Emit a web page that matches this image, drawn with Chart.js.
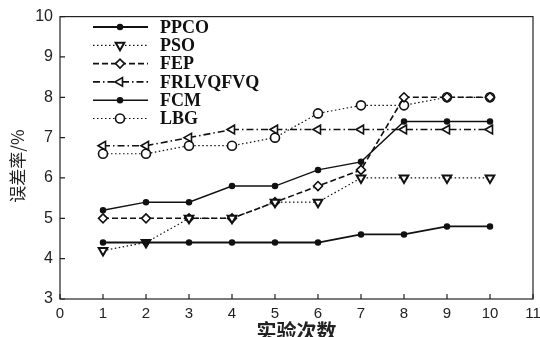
<!DOCTYPE html>
<html>
<head>
<meta charset="utf-8">
<script src="https://cdn.jsdelivr.net/npm/chart.js"></script>
<style>
  html, body { margin: 0; padding: 0; background: #fff; }
  #wrap { width: 540px; height: 337px; }
</style>
</head>
<body>
<div id="wrap"><canvas id="lineChart" width="540" height="337"></canvas></div>
<script>
// data
var experiments = [1, 2, 3, 4, 5, 6, 7, 8, 9, 10];
var ppco  = [4.4, 4.4, 4.4, 4.4, 4.4, 4.4, 4.6, 4.6, 4.8, 4.8];
var pso   = [4.2, 4.4, 5.0, 5.0, 5.4, 5.4, 6.0, 6.0, 6.0, 6.0];
var fep   = [5.0, 5.0, 5.0, 5.0, 5.4, 5.8, 6.2, 8.0, 8.0, 8.0];
var frlvq = [6.8, 6.8, 7.0, 7.2, 7.2, 7.2, 7.2, 7.2, 7.2, 7.2];
var fcm   = [5.2, 5.4, 5.4, 5.8, 5.8, 6.2, 6.4, 7.4, 7.4, 7.4];
var lbg   = [6.6, 6.6, 6.8, 6.8, 7.0, 7.6, 7.8, 7.8, 8.0, 8.0];
var seriesNames = ['PPCO', 'PSO', 'FEP', 'FRLVQFVQ', 'FCM', 'LBG'];
var xTicks = [0, 1, 2, 3, 4, 5, 6, 7, 8, 9, 10, 11];
var yTicks = [3, 4, 5, 6, 7, 8, 9, 10];

function pts(arr) {
    return experiments.map(function(x, i) { return {x: x, y: arr[i]}; });
}

function makeSet(name, arr, style) {
    return Object.assign({
        label: name,
        data: pts(arr),
        borderColor: '#111',
        backgroundColor: '#fff',
        pointBorderColor: '#111',
        borderWidth: 1.2,
        pointBorderWidth: 1.5,
        tension: 0
    }, style);
}

var datasets = [
    makeSet(seriesNames[0], ppco,  {borderWidth: 1.8, pointStyle: 'circle', pointRadius: 2.5, pointBackgroundColor: '#111'}),
    makeSet(seriesNames[1], pso,   {borderDash: [1.5, 2.5], pointStyle: 'triangle', rotation: 180, pointRadius: 5, pointBorderWidth: 2, pointBackgroundColor: '#fff'}),
    makeSet(seriesNames[2], fep,   {borderWidth: 1.6, borderDash: [6, 3], pointStyle: 'rectRot', pointRadius: 4.5, pointBorderWidth: 1.6, pointBackgroundColor: '#fff'}),
    makeSet(seriesNames[3], frlvq, {borderWidth: 1.6, borderDash: [7, 3, 1.5, 3], pointStyle: 'triangle', rotation: 270, pointRadius: 5, pointBorderWidth: 1.6, pointBackgroundColor: '#fff'}),
    makeSet(seriesNames[4], fcm,   {borderWidth: 1.4, pointStyle: 'circle', pointRadius: 2.5, pointBackgroundColor: '#111'}),
    makeSet(seriesNames[5], lbg,   {borderDash: [1.5, 2.5], pointStyle: 'circle', pointRadius: 4.5, pointBorderWidth: 1.6, pointBackgroundColor: '#fff'})
];

// frame, inward ticks, axis titles and the legend box in the upper left
var decor = {
    id: 'decor',
    afterDatasetsDraw: function(chart) {
        var ctx = chart.ctx, a = chart.chartArea;
        var xs = chart.scales.x, ys = chart.scales.y;
        ctx.save();
        ctx.strokeStyle = '#222';
        ctx.lineWidth = 1.2;
        ctx.setLineDash([]);
        ctx.strokeRect(a.left, a.top, a.right - a.left, a.bottom - a.top);
        ctx.beginPath();
        xTicks.forEach(function(v) {
            var px = xs.getPixelForValue(v);
            ctx.moveTo(px, a.bottom); ctx.lineTo(px, a.bottom - 5);
        });
        yTicks.forEach(function(v) {
            var py = ys.getPixelForValue(v);
            ctx.moveTo(a.left, py); ctx.lineTo(a.left + 5, py);
        });
        ctx.stroke();

        // axis titles
        ctx.fillStyle = '#222';
        ctx.textAlign = 'center';
        ctx.textBaseline = 'middle';
        ctx.font = '600 20px "Noto Sans CJK SC"';
        ctx.fillText('实验次数', (a.left + a.right) / 2, 331);
        ctx.save();
        ctx.translate(18, 166);
        ctx.rotate(-Math.PI / 2);
        ctx.font = '17px "Noto Sans CJK SC"';
        ctx.fillText('误差率/%', 0, 0);
        ctx.restore();

        // legend
        ctx.textAlign = 'left';
        chart.data.datasets.forEach(function(ds, i) {
            var y = 27 + i * 18.3;
            ctx.strokeStyle = ds.borderColor;
            ctx.lineWidth = ds.borderWidth;
            ctx.setLineDash(ds.borderDash || []);
            ctx.beginPath();
            ctx.moveTo(93, y); ctx.lineTo(148, y);
            ctx.stroke();
            ctx.setLineDash([]);
            ctx.lineWidth = ds.pointBorderWidth;
            ctx.strokeStyle = ds.pointBorderColor;
            ctx.fillStyle = ds.pointBackgroundColor;
            Chart.helpers.drawPoint(ctx, {
                pointStyle: ds.pointStyle,
                rotation: ds.rotation || 0,
                radius: ds.pointRadius,
                borderWidth: ds.pointBorderWidth
            }, 120, y);
            ctx.fillStyle = '#111';
            ctx.font = 'bold 18px "Liberation Serif"';
            ctx.fillText(ds.label, 160, y + 1);
        });
        ctx.restore();
    }
};

var ctx = document.getElementById('lineChart').getContext('2d');
var chart = new Chart(ctx, {
    type: 'line',
    data: { datasets: datasets },
    options: {
        responsive: false,
        animation: false,
        layout: { padding: { top: 16, right: 0, left: 0, bottom: 0 } },
        plugins: { legend: { display: false }, tooltip: { enabled: false } },
        scales: {
            x: {
                type: 'linear', min: 0, max: 11,
                afterFit: function(s) { s.height = 38; s.paddingRight = 7; s.paddingLeft = 0; },
                afterBuildTicks: function(s) { s.ticks = xTicks.map(function(v) { return {value: v}; }); },
                grid: { display: false, drawTicks: false },
                border: { display: false },
                ticks: { color: '#222', padding: 6, maxRotation: 0, font: { family: 'Liberation Sans', size: 15 } }
            },
            y: {
                min: 3, max: 10,
                afterFit: function(s) { s.width = 60; },
                afterBuildTicks: function(s) { s.ticks = yTicks.map(function(v) { return {value: v}; }); },
                grid: { display: false, drawTicks: false },
                border: { display: false },
                ticks: { color: '#222', padding: 7, font: { family: 'Liberation Sans', size: 16 } }
            }
        }
    },
    plugins: [decor]
});
</script>
</body>
</html>
